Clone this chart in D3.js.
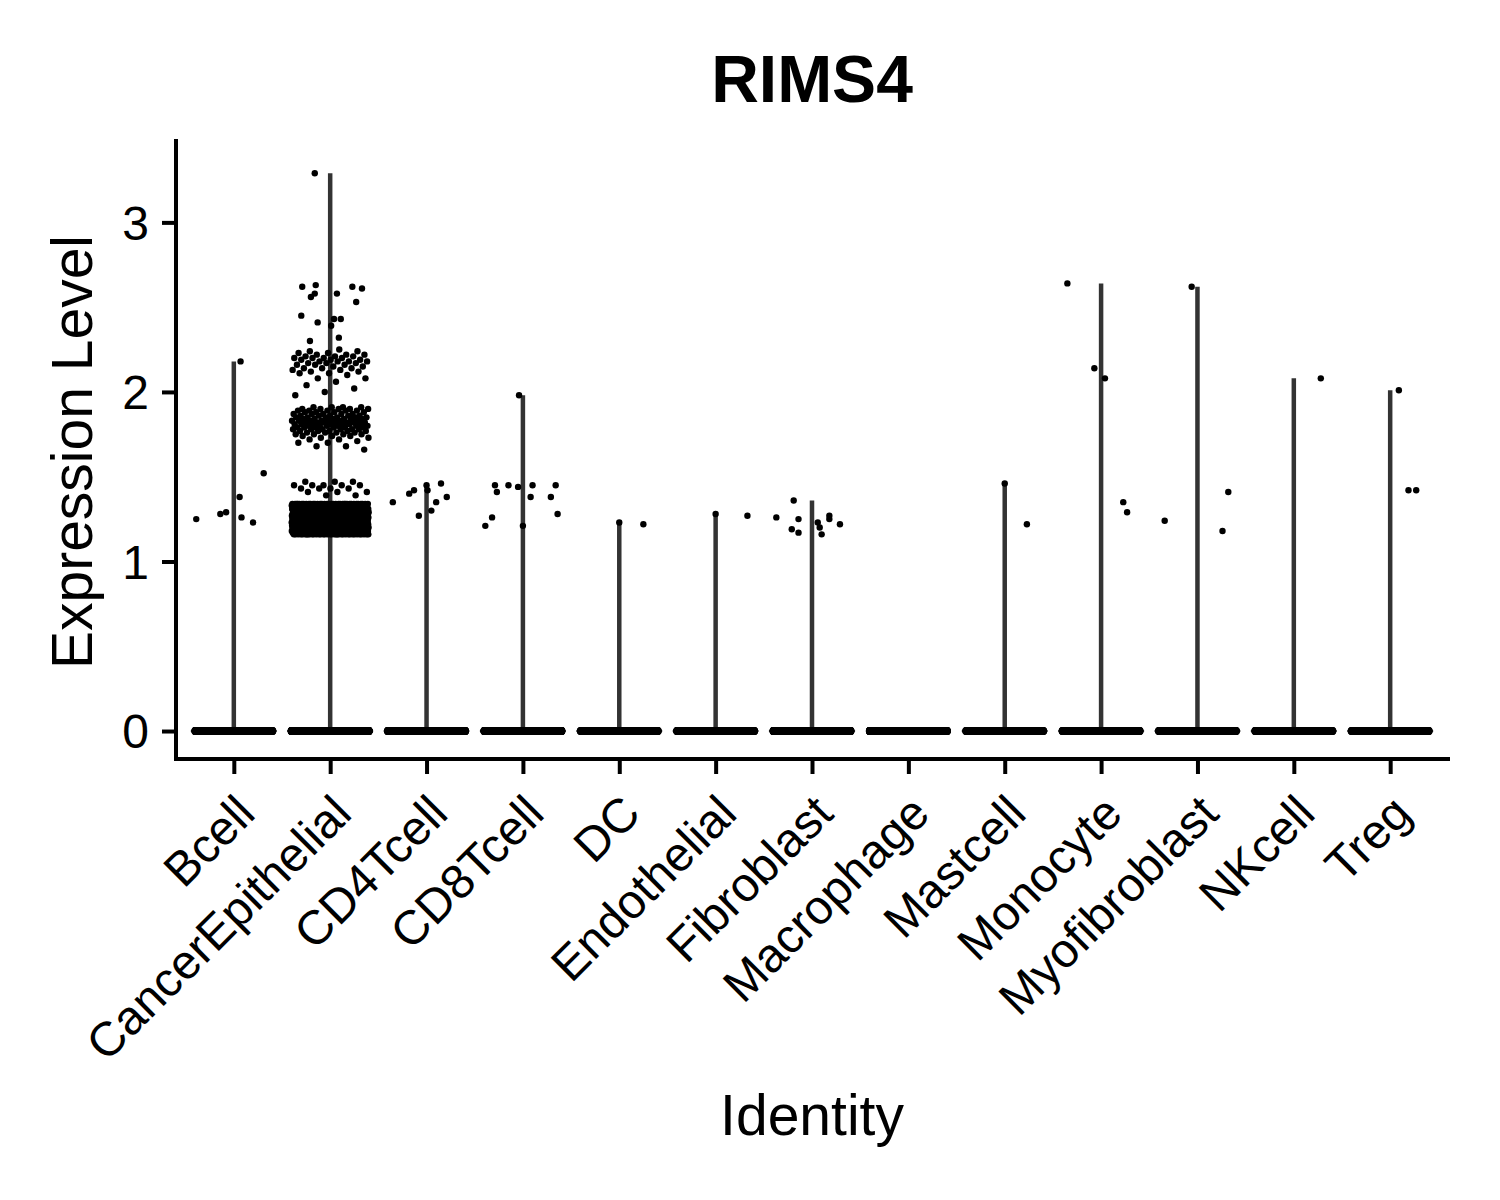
<!DOCTYPE html>
<html>
<head>
<meta charset="utf-8">
<script src="https://cdn.jsdelivr.net/npm/d3@7"></script>
<style>
  html, body { margin: 0; padding: 0; background: #fff; }
  svg text { font-family: "Liberation Sans", Arial, Helvetica, sans-serif; fill: #000; }
</style>
</head>
<body>
<svg id="chart" width="1500" height="1200"></svg>
<script>
// ---------------- DATA ----------------
const categories = ["Bcell","CancerEpithelial","CD4Tcell","CD8Tcell","DC","Endothelial","Fibroblast","Macrophage","Mastcell","Monocyte","Myofibroblast","NKcell","Treg"];
const yTicks = [0, 1, 2, 3];
const titleText = "RIMS4";
const xTitle = "Identity";
const yTitle = "Expression Level";

// cells with expression exactly 0 (estimated count per identity)
const zeroCounts = [400, 1500, 900, 800, 300, 500, 600, 1000, 300, 350, 300, 300, 300];

const bcellValues   = [1.25, 1.28, 1.29, 1.38, 2.18, 1.26, 1.23, 1.52];
const bcellJitter   = [-0.39, -0.14, -0.08, 0.06, 0.07, 0.08, 0.20, 0.31];
const cd4Values     = [1.35, 1.40, 1.42, 1.27, 1.45, 1.42, 1.30, 1.35, 1.46, 1.38];
const cd4Jitter     = [-0.35, -0.18, -0.13, -0.08, 0.00, 0.01, 0.05, 0.10, 0.15, 0.21];
const cd8Values     = [1.21, 1.26, 1.45, 1.41, 1.45, 1.44, 1.98, 1.21, 1.38, 1.45, 1.38, 1.45, 1.28];
const cd8Jitter     = [-0.39, -0.32, -0.29, -0.27, -0.15, -0.05, -0.04, 0.00, 0.08, 0.10, 0.29, 0.34, 0.36];
const dcValues      = [1.23, 1.22];
const dcJitter      = [0.00, 0.25];
const endoValues    = [1.28, 1.27];
const endoJitter    = [0.00, 0.33];
const fibroValues   = [1.26, 1.36, 1.25, 1.19, 1.17, 1.23, 1.20, 1.16, 1.27, 1.25, 1.22];
const fibroJitter   = [-0.37, -0.19, -0.14, -0.21, -0.14, 0.06, 0.08, 0.10, 0.18, 0.18, 0.29];
const macroValues   = [];
const macroJitter   = [];
const mastValues    = [1.46, 1.22];
const mastJitter    = [0.00, 0.23];
const monoValues    = [2.64, 2.14, 2.08, 1.35, 1.29];
const monoJitter    = [-0.35, -0.07, 0.04, 0.23, 0.27];
const myoValues     = [2.62, 1.24, 1.41, 1.18];
const myoJitter     = [-0.06, -0.34, 0.32, 0.26];
const nkValues      = [2.08];
const nkJitter      = [0.28];
const tregValues    = [2.01, 1.42, 1.42];
const tregJitter    = [0.09, 0.19, 0.27];

// CancerEpithelial: sparse high cells (value, observed jitter)
const cancerSparseValues = [3.29, 2.62, 2.63, 2.58, 2.56, 2.58, 2.62, 2.61, 2.53, 2.45, 2.41, 2.43, 2.43, 2.39, 2.32, 2.30];
const cancerSparseJitter = [-0.16, -0.29, -0.15, -0.16, -0.20, 0.07, 0.23, 0.33, 0.27, -0.30, -0.13, 0.04, 0.11, 0.01, 0.09, -0.21];
// CancerEpithelial: dense groups read as a histogram [value, number of cells]
const cancerHist = [
  [2.25, 1], [2.24, 2], [2.23, 2], [2.22, 3], [2.21, 3], [2.20, 4], [2.19, 3], [2.18, 4], [2.17, 3], [2.16, 3],
  [2.15, 2], [2.14, 3], [2.13, 2], [2.12, 2], [2.11, 2], [2.10, 1], [2.08, 2], [2.06, 1], [2.04, 1], [2.02, 1], [2.00, 1], [1.98, 1],
  [1.91, 4], [1.90, 5], [1.89, 5], [1.88, 4], [1.87, 5], [1.86, 5], [1.85, 6], [1.84, 6], [1.83, 7], [1.82, 7],
  [1.81, 7], [1.80, 6], [1.79, 6], [1.78, 6], [1.77, 5], [1.76, 4], [1.75, 4], [1.74, 3], [1.73, 2], [1.72, 2],
  [1.71, 1], [1.70, 2], [1.68, 2], [1.66, 1],
  [1.47, 3], [1.45, 5], [1.43, 4], [1.41, 3], [1.39, 2],
  [1.34, 36], [1.33, 40], [1.32, 40], [1.31, 40], [1.30, 40], [1.29, 40], [1.28, 40], [1.27, 40], [1.26, 40], [1.25, 40],
  [1.24, 40], [1.23, 40], [1.22, 40], [1.21, 40], [1.20, 40], [1.19, 40], [1.18, 40], [1.17, 40], [1.16, 36]
];

// ---------------- BUILD ----------------
const golden = 0.6180339887;
let gk = 0;
const cancerDenseValues = [], cancerDenseJitter = [];
cancerHist.forEach(([v, n]) => {
  for (let i = 0; i < n; i++) {
    gk++;
    cancerDenseValues.push(v);
    cancerDenseJitter.push(((gk * golden) % 1) * 0.8 - 0.4);
  }
});

const nonZero = {
  "Bcell": [bcellValues, bcellJitter],
  "CancerEpithelial": [cancerDenseValues.concat(cancerSparseValues), cancerDenseJitter.concat(cancerSparseJitter)],
  "CD4Tcell": [cd4Values, cd4Jitter],
  "CD8Tcell": [cd8Values, cd8Jitter],
  "DC": [dcValues, dcJitter],
  "Endothelial": [endoValues, endoJitter],
  "Fibroblast": [fibroValues, fibroJitter],
  "Macrophage": [macroValues, macroJitter],
  "Mastcell": [mastValues, mastJitter],
  "Monocyte": [monoValues, monoJitter],
  "Myofibroblast": [myoValues, myoJitter],
  "NKcell": [nkValues, nkJitter],
  "Treg": [tregValues, tregJitter]
};

const points = [];
categories.forEach((c, ci) => {
  const nz = zeroCounts[ci];
  for (let k = 0; k < nz; k++) {
    points.push({ cat: c, value: 0, jitter: -0.4 + 0.8 * k / (nz - 1), zero: true });
  }
  const [vals, jit] = nonZero[c];
  vals.forEach((v, i) => points.push({ cat: c, value: v, jitter: jit[i], zero: false }));
});

const maxByCat = categories.map(c => ({ cat: c, max: d3.max(nonZero[c][0]) || 0 }));

// ---------------- LAYOUT ----------------
const svg = d3.select("#chart");
const pLeft = 176, pRight = 1448, pTop = 141, pBottom = 759;

const x = d3.scalePoint().domain(categories).range([pLeft, pRight]).padding(0.6);
const step = x.step();
const y = d3.scaleLinear().domain([-0.165, 3.48]).range([pBottom, pTop]);

// violins (collapsed to a spike from 0 to max, with a narrow bulge at 0)
const vg = svg.append("g");
vg.selectAll("line.vio").data(maxByCat.filter(d => d.max > 0)).join("line")
  .attr("class", "vio")
  .attr("x1", d => x(d.cat)).attr("x2", d => x(d.cat))
  .attr("y1", y(0)).attr("y2", d => y(d.max))
  .attr("stroke", "#333").attr("stroke-width", 4.5);
vg.selectAll("ellipse.vio").data(maxByCat.filter(d => d.max > 0)).join("ellipse")
  .attr("class", "vio")
  .attr("cx", d => x(d.cat)).attr("cy", y(0))
  .attr("rx", 0.45 * step).attr("ry", 4)
  .attr("fill", "#111");

// jittered points
svg.append("g").selectAll("circle").data(points).join("circle")
  .attr("cx", d => x(d.cat) + d.jitter * step)
  .attr("cy", d => y(d.value))
  .attr("r", d => d.zero ? 4 : 3.2)
  .attr("fill", "#000");

// axes
const yAxis = svg.append("g").attr("transform", `translate(${pLeft},0)`)
  .call(d3.axisLeft(y).tickValues(yTicks).tickSize(14).tickSizeOuter(0).tickPadding(13).tickFormat(d3.format("d")));
const xAxis = svg.append("g").attr("transform", `translate(0,${pBottom})`)
  .call(d3.axisBottom(x).tickSize(15).tickSizeOuter(0));

[yAxis, xAxis].forEach(a => {
  a.select(".domain").attr("stroke", "#000").attr("stroke-width", 4).attr("stroke-linecap", "square");
  a.selectAll(".tick line").attr("stroke", "#000").attr("stroke-width", 4);
});
yAxis.select(".domain").attr("d", `M0,${pBottom}V${pTop}`);
xAxis.select(".domain").attr("d", `M${pLeft},0H${pRight}`);

yAxis.selectAll(".tick text")
  .attr("font-size", 48).attr("dy", "0.35em")
  .style("font-family", '"Liberation Sans", Arial, sans-serif');

xAxis.selectAll(".tick text")
  .attr("font-size", 48)
  .attr("x", 0).attr("y", 0).attr("dy", 0)
  .attr("text-anchor", "end")
  .attr("transform", "translate(23,57) rotate(-45)")
  .style("font-family", '"Liberation Sans", Arial, sans-serif');

// titles
svg.append("text").attr("x", (pLeft + pRight) / 2).attr("y", 102)
  .attr("text-anchor", "middle").attr("font-size", 66).attr("font-weight", "bold")
  .text(titleText);
svg.append("text").attr("x", (pLeft + pRight) / 2).attr("y", 1135)
  .attr("text-anchor", "middle").attr("font-size", 57)
  .text(xTitle);
svg.append("text").attr("transform", `translate(92,${(pTop + pBottom) / 2 + 2}) rotate(-90)`)
  .attr("text-anchor", "middle").attr("font-size", 57)
  .text(yTitle);
</script>
</body>
</html>
